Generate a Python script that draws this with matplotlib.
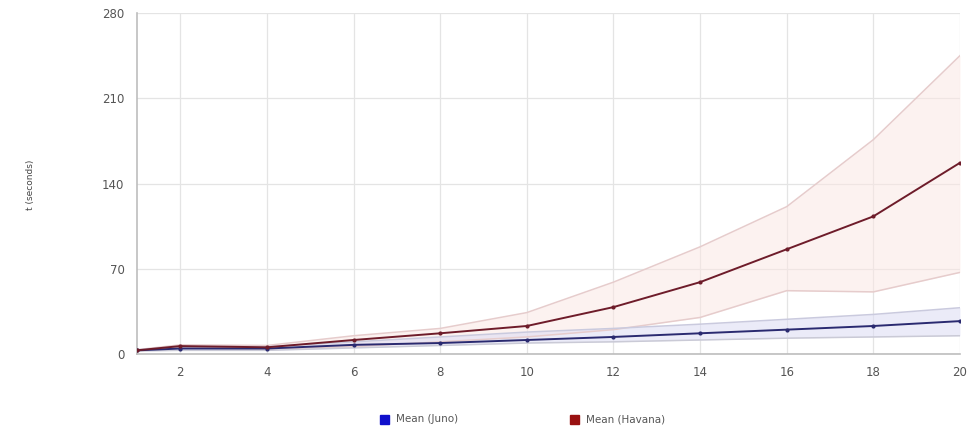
import matplotlib
matplotlib.use('Agg')
import matplotlib.pyplot as plt
from matplotlib.patches import Rectangle

# --- data --------------------------------------------------------------
x = [1, 2, 4, 6, 8, 10, 12, 14, 16, 18, 20]

havana_mean = [3, 6.5, 5.5, 11.5, 17, 23, 38.5, 59, 86, 113, 157]
havana_upper = [3.5, 7.5, 7, 15, 21, 34, 59, 88, 121, 176, 245]
havana_lower = [2.5, 5, 4, 6, 10, 14, 20, 30, 52, 51, 67]

juno_mean = [3, 4.5, 4.5, 7.5, 9, 11.5, 14, 17, 20, 23, 27]
juno_upper = [3.5, 6, 6, 10, 14, 18, 21, 24.5, 28.5, 32.5, 38]
juno_lower = [2.5, 3, 3, 5, 7, 9, 10, 11.5, 13, 14, 15]

x_ticks = [2, 4, 6, 8, 10, 12, 14, 16, 18, 20]
y_ticks = [0, 70, 140, 210, 280]

# --- figure ------------------------------------------------------------
fig = plt.figure(figsize=(9.73, 4.28), dpi=100)
ax = fig.add_axes([0.1408, 0.1729, 0.8458, 0.7967])

ax.fill_between(x, havana_lower, havana_upper, color='#fbe6e3', alpha=0.5, lw=0, zorder=1)
ax.fill_between(x, juno_lower, juno_upper, color='#dcdcf4', alpha=0.55, lw=0, zorder=2)

ax.plot(x, havana_upper, color='#e6cccc', lw=1.1, zorder=3)
ax.plot(x, havana_lower, color='#e6cccc', lw=1.1, zorder=3)
ax.plot(x, juno_upper, color='#cacade', lw=1.1, zorder=3)
ax.plot(x, juno_lower, color='#cacad6', lw=1.1, zorder=3)

ax.plot(x, juno_mean, color='#2a2a70', lw=1.4, marker='o', ms=2, zorder=4)
ax.plot(x, havana_mean, color='#6e1c2a', lw=1.4, marker='o', ms=2, zorder=5)

ax.set_xlim(1, 20)
ax.set_ylim(0, 280)
ax.set_xticks(x_ticks)
ax.set_yticks(y_ticks)
ax.grid(True, color='#e4e4e4', lw=0.9)
ax.set_axisbelow(True)
for s in ['top', 'right']:
    ax.spines[s].set_visible(False)
for s in ['left', 'bottom']:
    ax.spines[s].set_color('#bdbdbd')
    ax.spines[s].set_linewidth(1.2)
ax.tick_params(length=0, labelsize=8.5, colors='#555555', pad=9)

fig.text(0.031, 0.568, 't (seconds)', rotation=90, fontsize=6.5,
         color='#444444', ha='center', va='center')

# --- legend at the bottom ---------------------------------------------
W, H = 973, 428
legend = [('Mean (Juno)', '#1010cc', 380), ('Mean (Havana)', '#991111', 570)]
for label, col, px in legend:
    fig.patches.append(Rectangle((px / W, 1 - 424 / H), 9 / W, 9 / H,
                                 transform=fig.transFigure, color=col))
    fig.text((px + 16) / W, 1 - 419 / H, label, fontsize=7.5,
             color='#555555', ha='left', va='center')

fig.savefig('out.png', dpi=100)
